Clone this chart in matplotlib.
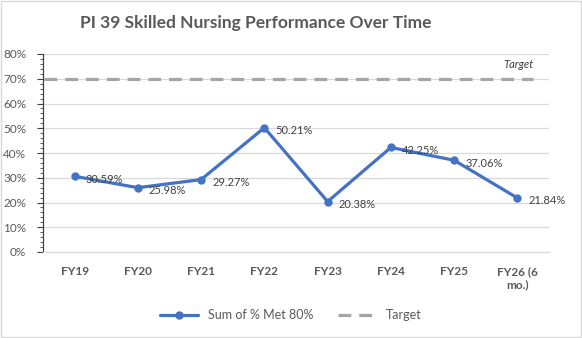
import matplotlib.pyplot as plt
from matplotlib.ticker import MultipleLocator, PercentFormatter
from matplotlib.patches import Rectangle

plt.rcParams['font.family'] = ['Lato', 'DejaVu Sans']

categories = ['FY19', 'FY20', 'FY21', 'FY22', 'FY23', 'FY24', 'FY25', 'FY26 (6\nmo.)']
met_pct = [30.59, 25.98, 29.27, 50.21, 20.38, 42.25, 37.06, 21.84]
target = 70

grey = '#595959'
blue = '#4472C4'

fig = plt.figure(figsize=(5.82, 3.38), dpi=100)
ax = fig.add_axes([43 / 582, 1 - 252 / 338, 506 / 582, 198 / 338])

x = list(range(len(categories)))
ax.plot(x, met_pct, color=blue, lw=2.3, marker='o', ms=5, label='Sum of % Met 80%',
        solid_capstyle='round', zorder=3)
ax.plot([-0.48, 7.25], [target, target], color='#A5A5A5', lw=2.3, ls=(0, (4, 2.5)),
        label='Target', zorder=2)

for xi, v in zip(x, met_pct):
    ax.annotate(f'{v:.2f}%', (xi, v), xytext=(8, -2), textcoords='offset points',
                ha='left', va='center', fontsize=8, color='#404040')
ax.text(7.25, 73.5, 'Target', style='italic', fontsize=8, color='#404040', ha='right', va='bottom')

ax.set_xlim(-0.5, 7.5)
ax.set_ylim(0, 80)
ax.yaxis.set_major_locator(MultipleLocator(10))
ax.yaxis.set_minor_locator(MultipleLocator(2))
ax.yaxis.set_major_formatter(PercentFormatter(decimals=0))
ax.set_xticks(x)
ax.set_xticklabels(categories, fontsize=8.5, fontweight='bold', color=grey)
ax.tick_params(axis='x', length=0, pad=10)
ax.tick_params(axis='y', which='major', length=4, labelsize=8.5, labelcolor=grey, color='#404040', pad=8)
ax.tick_params(axis='y', which='minor', length=2.5, color='#404040')
ax.grid(axis='y', color='#D9D9D9', lw=0.9)
ax.set_axisbelow(True)
for s in ['top', 'right']:
    ax.spines[s].set_visible(False)
ax.spines['left'].set_color('#404040')
ax.spines['left'].set_linewidth(0.9)
ax.spines['bottom'].set_color('#D9D9D9')

fig.text(0.44, 1 - 23 / 338, 'PI 39 Skilled Nursing Performance Over Time', ha='center', va='center',
         fontsize=12.5, fontweight='bold', color=grey)

leg = fig.legend(loc='center', bbox_to_anchor=(0.5, 1 - 315 / 338), ncol=2, frameon=False,
                 fontsize=9, labelcolor=grey, handlelength=3, columnspacing=2)

fig.patches.append(Rectangle((0.002, 0.003), 0.996, 0.994, transform=fig.transFigure,
                             fill=False, edgecolor='#D9D9D9', lw=1))

fig.savefig('out.png', dpi=100)
